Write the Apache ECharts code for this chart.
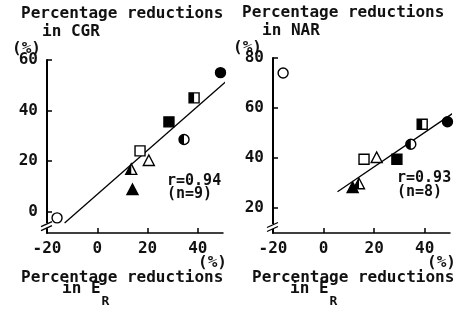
<!DOCTYPE html>
<html>
<head>
<meta charset="utf-8">
<script src="https://cdn.jsdelivr.net/npm/echarts@6/dist/echarts.min.js"></script>
<style>html,body{margin:0;padding:0;background:#fff;}#c{width:460px;height:309px;}</style>
</head>
<body>
<div id="c"></div>
<script>
// marker kinds (shared by both panels, same order)
const markerKinds = ['filledCircle','halfSquare','filledSquare','halfCircle','openSquare','openTriangle','halfTriangle','filledTriangle','openCircle'];
// Left panel: reductions in CGR vs reductions in E_R
const cgrX = [49, 38.5, 28.5, 34.5, 17, 20.5, 13.5, 14, -16];
const cgrY = [55, 45, 35.5, 28.5, 24, 20, 16.5, 8.5, -2.5];
const cgrLine = [[-13, -4.5], [51.8, 52]];
// Right panel: reductions in NAR vs reductions in E_R
const narX = [49, 39, 29, 34.5, 16, 21, 14, 11.5, -16];
const narY = [54.5, 53.5, 39.5, 45.5, 39.5, 40, 29.5, 28, 74];
const narLine = [[5.5, 26.5], [51.6, 58.2]];
// ticks
const xTickLabels = [-20, 0, 20, 40];
const xTicks = [0, 20, 40];
const cgrTicks = [0, 20, 40, 60];
const narTicks = [20, 40, 60, 80];
// axis break positions on y axes
const cgrBreak = [[-20, -5.6]];
const narBreak = [[-20, 12.6]];

const FONT = 'DejaVu Sans Mono';
const WEIGHT = 'bold';

function pts(xs, ys) { return xs.map((x, i) => [x, ys[i], i]); }

function renderMarker(params, api) {
  const c = api.coord([api.value(0), api.value(1)]);
  const kind = markerKinds[api.value(2)];
  const cx = c[0], cy = c[1];
  const s = 5;
  const lw = 1.4;
  const black = '#000', white = '#fff';
  const filled = kind.indexOf('filled') === 0;
  const half = kind.indexOf('half') === 0;
  const fill = filled ? black : white;
  const children = [];
  if (kind.endsWith('Circle')) {
    children.push({type: 'circle', shape: {cx, cy, r: s}, style: {fill, stroke: black, lineWidth: lw}});
    if (half) children.push({type: 'sector', shape: {cx, cy, r0: 0, r: s, startAngle: Math.PI / 2, endAngle: Math.PI * 1.5, clockwise: true}, style: {fill: black}});
  } else if (kind.endsWith('Square')) {
    children.push({type: 'rect', shape: {x: cx - s, y: cy - s, width: 2 * s, height: 2 * s}, style: {fill, stroke: black, lineWidth: lw}});
    if (half) children.push({type: 'rect', shape: {x: cx - s, y: cy - s, width: s, height: 2 * s}, style: {fill: black}});
  } else {
    const top = [cx, cy - s - 1], bl = [cx - s - 0.5, cy + s - 0.5], br = [cx + s + 0.5, cy + s - 0.5];
    children.push({type: 'polygon', shape: {points: [top, br, bl]}, style: {fill, stroke: black, lineWidth: lw, lineJoin: 'miter'}});
    if (half) children.push({type: 'polygon', shape: {points: [top, [cx, cy + s - 0.5], bl]}, style: {fill: black}});
  }
  return {type: 'group', children};
}

function renderBreak(params, api) {
  const c = api.coord([api.value(0), api.value(1)]);
  const cx = c[0], cy = c[1];
  return {type: 'group', children: [
    {type: 'rect', shape: {x: cx - 2, y: cy - 2.5, width: 4, height: 5}, style: {fill: '#fff'}},
    {type: 'line', shape: {x1: cx - 6, y1: cy + 1, x2: cx + 5, y2: cy - 4}, style: {stroke: '#000', lineWidth: 1.3}},
    {type: 'line', shape: {x1: cx - 6, y1: cy + 5, x2: cx + 5, y2: cy}, style: {stroke: '#000', lineWidth: 1.3}}
  ]};
}

function xAxis(gi) {
  return {
    type: 'value', gridIndex: gi, min: -20, max: 50,
    axisLine: {show: true, onZero: false, lineStyle: {color: '#000', width: 1.5}},
    axisTick: {show: true, inside: true, length: 5, customValues: xTicks, lineStyle: {color: '#000', width: 1.5}},
    axisLabel: {customValues: xTickLabels, fontFamily: FONT, fontWeight: WEIGHT, fontSize: 16, color: '#111', margin: 8},
    splitLine: {show: false}
  };
}
function yAxis(gi, min, max, ticks) {
  return {
    type: 'value', gridIndex: gi, min, max,
    axisLine: {show: true, onZero: false, lineStyle: {color: '#000', width: 2}},
    axisTick: {show: true, inside: true, length: 5, customValues: ticks, lineStyle: {color: '#000', width: 1.5}},
    axisLabel: {customValues: ticks, fontFamily: FONT, fontWeight: WEIGHT, fontSize: 16, color: '#111', margin: 9},
    splitLine: {show: false}
  };
}

const textStyle = (extra) => Object.assign({fontFamily: FONT, fontWeight: WEIGHT, fontSize: 16, fill: '#111', textVerticalAlign: 'middle'}, extra || {});
function txt(x, y, text, size) {
  return {type: 'text', x, y, style: textStyle({text, fontSize: size || 16})};
}
function erText(x, y) {
  return {type: 'text', x, y, style: {
    text: '{a|in E}{b|R}', fontFamily: FONT, fontWeight: WEIGHT, fill: '#111', textVerticalAlign: 'top',
    rich: {a: {fontFamily: FONT, fontWeight: WEIGHT, fontSize: 16, fill: '#111', verticalAlign: 'top', padding: [0, 0, 0, 0]},
           b: {fontFamily: FONT, fontWeight: WEIGHT, fontSize: 13, fill: '#111', padding: [14, 0, 0, 1]}}
  }};
}

const chart = echarts.init(document.getElementById('c'), null, {renderer: 'canvas'});
chart.setOption({
  animation: false,
  backgroundColor: '#fff',
  grid: [
    {left: 47, top: 60, width: 176, bottom: 76},
    {left: 273, top: 58, width: 177, bottom: 76}
  ],
  xAxis: [xAxis(0), xAxis(1)],
  yAxis: [yAxis(0, -8.5, 60, cgrTicks), yAxis(1, 10, 80, narTicks)],
  series: [
    {type: 'line', xAxisIndex: 0, yAxisIndex: 0, data: cgrLine, symbol: 'none', clip: false, lineStyle: {color: '#000', width: 1.3}},
    {type: 'line', xAxisIndex: 1, yAxisIndex: 1, data: narLine, symbol: 'none', clip: false, lineStyle: {color: '#000', width: 1.3}},
    {type: 'custom', xAxisIndex: 0, yAxisIndex: 0, data: pts(cgrX, cgrY), renderItem: renderMarker, clip: false, z: 5},
    {type: 'custom', xAxisIndex: 1, yAxisIndex: 1, data: pts(narX, narY), renderItem: renderMarker, clip: false, z: 5},
    {type: 'custom', xAxisIndex: 0, yAxisIndex: 0, data: cgrBreak, renderItem: renderBreak, clip: false, z: 6},
    {type: 'custom', xAxisIndex: 1, yAxisIndex: 1, data: narBreak, renderItem: renderBreak, clip: false, z: 6}
  ],
  graphic: [
    txt(21, 14, 'Percentage reductions'),
    txt(42, 32, 'in CGR'),
    txt(12, 49, '(%)'),
    txt(167, 181, 'r=0.94', 15),
    txt(167, 194, '(n=9)', 15),
    txt(198, 263, '(%)'),
    txt(21, 278, 'Percentage reductions'),
    erText(62, 281),
    txt(242, 13, 'Percentage reductions'),
    txt(262, 31, 'in NAR'),
    txt(233, 48, '(%)'),
    txt(397, 178, 'r=0.93', 15),
    txt(397, 192, '(n=8)', 15),
    txt(427, 263, '(%)'),
    txt(252, 278, 'Percentage reductions'),
    erText(290, 281)
  ]
});
</script>
</body>
</html>
